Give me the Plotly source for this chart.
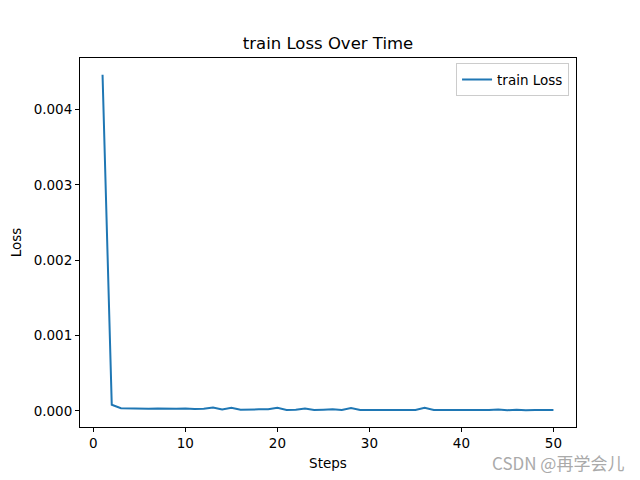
import plotly.graph_objects as go

steps = list(range(1, 51))
train_loss = [
    0.00446, 0.00008, 0.000035, 0.00003, 0.00003, 0.000028, 0.00003, 0.000025, 0.000028, 0.000032,
    0.000025, 0.000028, 0.000045, 0.000018, 0.000042, 0.000015, 0.00002, 0.00002, 0.00002, 0.00004,
    0.000012, 0.000015, 0.00003, 0.000012, 0.000015, 0.00002, 0.000012, 0.000038, 0.000012, 0.000012,
    0.000015, 0.000012, 0.000012, 0.000015, 0.00001, 0.00004, 0.00001, 0.00001, 0.00001, 0.000015,
    0.000012, 0.000008, 0.00001, 0.000018, 0.000008, 0.000015, 0.000008, 0.000012, 0.000008, 0.000012,
]
x_ticks = [0, 10, 20, 30, 40, 50]
y_ticks = [0.000, 0.001, 0.002, 0.003, 0.004]

font = "DejaVu Sans"

fig = go.Figure()
fig.add_trace(go.Scatter(x=steps, y=train_loss, mode="lines", name="train Loss",
                         line=dict(color="#1f77b4", width=2)))

xmin, xmax = min(steps), max(steps)
ymin, ymax = min(train_loss), max(train_loss)
xm = (xmax - xmin) * 0.05
ym = (ymax - ymin) * 0.05

axis_common = dict(showline=True, linecolor="black", linewidth=1, mirror=True,
                   ticks="outside", ticklen=4, tickcolor="black", tickwidth=1,
                   showgrid=False, zeroline=False,
                   tickfont=dict(family=font, size=13.5, color="black"))

fig.update_layout(
    width=640, height=480,
    paper_bgcolor="white", plot_bgcolor="white",
    margin=dict(l=80, r=64, t=58, b=53),
    font=dict(family=font, color="black"),
    title=dict(text="train Loss Over Time", x=0.5, xref="paper", xanchor="center",
               y=1 - 43 / 480, yref="container", yanchor="middle",
               font=dict(family=font, size=16.5, color="black")),
    xaxis=dict(range=[xmin - xm, xmax + xm], tickvals=x_ticks,
               title=dict(text="Steps", font=dict(family=font, size=13.5), standoff=8),
               **axis_common),
    yaxis=dict(range=[ymin - ym, ymax + ym], tickvals=y_ticks, tickformat=".3f",
               title=dict(text="Loss", font=dict(family=font, size=13.5), standoff=8),
               **axis_common),
    showlegend=True,
    legend=dict(x=0.986, y=0.986, xanchor="right", yanchor="top",
                bgcolor="rgba(255,255,255,0.8)", bordercolor="#cccccc", borderwidth=1,
                font=dict(family=font, size=13.5, color="black")),
    annotations=[dict(text="CSDN @再学会儿", xref="paper", yref="paper",
                      x=(626 - 80) / 496, y=-(462 - 427) / 369, xanchor="right", yanchor="middle",
                      showarrow=False,
                      font=dict(family="Noto Sans CJK SC", size=17, color="#aaaaaa"))],
)

fig.write_html("out.html", config={"displayModeBar": False},
               post_script="document.body.style.margin='0';document.body.style.padding='0';")
